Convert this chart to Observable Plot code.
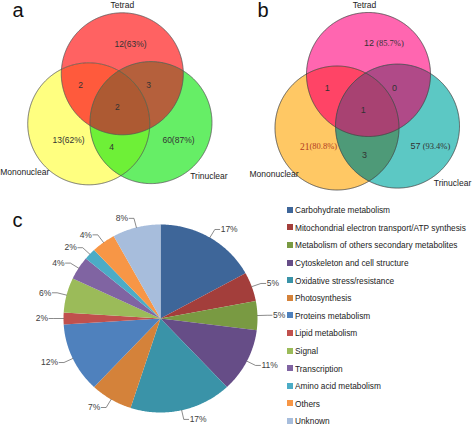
<!DOCTYPE html>
<html>
<head>
<meta charset="utf-8">
<script src="https://cdn.jsdelivr.net/npm/d3@7"></script>
<script src="https://cdn.jsdelivr.net/npm/@observablehq/plot@0.6"></script>
<style>
  body { margin: 0; background: #fff; }
  #root { position: relative; width: 472px; height: 427px; overflow: hidden; background: #fff;
          font-family: "Liberation Sans", Arial, sans-serif; }
  .panel { position: absolute; }
  .panel svg { overflow: visible; }
  #legend { position: absolute; left: 287px; top: 201px; font-family: "Liberation Sans", Arial, sans-serif;
            font-size: 9.5px; color: #222; }
  #legend .row { height: 17.6px; display: flex; align-items: center; white-space: nowrap; }
  #legend .sw { width: 6px; height: 6px; margin-right: 2px; flex: none; }
  #legend .tx { display: inline-block; transform-origin: left center; }
</style>
</head>
<body>
<div id="root"></div>
<script>
// ---------------- data ----------------
const vennSets = ["Tetrad", "Mononuclear", "Trinuclear"];
// regions: T = Tetrad only, M = Mononuclear only, R = Trinuclear only, then overlaps
const vennRegions = ["T", "M", "R", "TM", "TR", "MR", "TMR"];
const vennACounts = [12, 13, 60, 2, 3, 4, 2];
const vennAPercents = ["63", "62", "87"];
const vennBCounts = [12, 21, 57, 1, 0, 3, 1];
const vennBPercents = ["85.7", "80.8", "93.4"];

const pieCategories = [
  "Carbohydrate metabolism",
  "Mitochondrial electron transport/ATP synthesis",
  "Metabolism of others secondary metabolites",
  "Cytoskeleton and cell structure",
  "Oxidative stress/resistance",
  "Photosynthesis",
  "Proteins metabolism",
  "Lipid metabolism",
  "Signal",
  "Transcription",
  "Amino acid metabolism",
  "Others",
  "Unknown"
];
const pieValues = [17, 5, 5, 11, 17, 7, 12, 2, 6, 4, 2, 4, 8];

// ---------------- styles / layout ----------------
const pieColors = ["#3E6699", "#A33E3B", "#799A42", "#664D87", "#3A93A8", "#D4823A",
                   "#4F81BD", "#C0504D", "#9BBB59", "#8064A2", "#4BACC6", "#F79646", "#A7BDDC"];

const regionMembers = {T: [0], M: [1], R: [2], TM: [0, 1], TR: [0, 2], MR: [1, 2], TMR: [0, 1, 2]};

const layoutA = {
  letter: "a", letterDx: 12, letterDy: 2,
  px: 61, origin: [121.8, 73.3], width: 236, height: 200,
  centers: [[0, 0], [-0.55, 0.82], [0.47, 0.80]],
  nameAt: [[0, -1.13], [-1.6, 1.62], [1.42, 1.68]],
  labelAt: {T: [0.134, -0.485], M: [-0.882, 1.093], R: [0.921, 1.093], TM: [-0.685, 0.192],
            TR: [0.43, 0.192], MR: [-0.177, 1.208], TMR: [-0.079, 0.552]},
  fills: {T: "#ff6262", M: "#ffff80", R: "#66ee66", TM: "#ff5a3c", TR: "#b5603c", MR: "#6ef037", TMR: "#ad5a33"},
  stroke: "#555"
};
const layoutB = {
  letter: "b", letterDx: 21, letterDy: 2.5,
  px: 62, origin: [132, 74], width: 236, height: 200,
  centers: [[0, 0], [-0.508, 0.863], [0.468, 0.832]],
  nameAt: [[-0.065, -1.113], [-1.524, 1.613], [1.355, 1.758]],
  labelAt: {T: [0.089, -0.5], M: [-0.952, 1.161], R: [0.839, 1.161], TM: [-0.666, 0.226],
            TR: [0.419, 0.226], MR: [-0.065, 1.306], TMR: [-0.085, 0.58]},
  fills: {T: "#ff66b0", M: "#ffc864", R: "#5cc8c4", TM: "#ff4466", TR: "#b04a88", MR: "#4e9a78", TMR: "#a84272"},
  stroke: "#444"
};

const SANS = "Liberation Sans, Arial, sans-serif";
const SERIF = "Liberation Serif, Times New Roman, serif";

function regionPolygon(centers, idx, n = 480) {
  const pts = [];
  for (const i of idx) {
    const [cx, cy] = centers[i];
    for (let k = 0; k < n; k++) {
      const a = 2 * Math.PI * k / n;
      const x = cx + Math.cos(a), y = cy + Math.sin(a);
      if (idx.every(j => j === i || Math.hypot(x - centers[j][0], y - centers[j][1]) <= 1.0005)) pts.push([x, y]);
    }
  }
  const mx = d3.mean(pts, p => p[0]), my = d3.mean(pts, p => p[1]);
  pts.sort((p, q) => Math.atan2(p[1] - my, p[0] - mx) - Math.atan2(q[1] - my, q[0] - mx));
  return pts;
}

function vennPlot(counts, percents, L, splitLabels) {
  const marks = [];
  // painter's order: single circles, pairs, triple
  for (const key of vennRegions) {
    marks.push(Plot.line(regionPolygon(L.centers, regionMembers[key]), {
      x: d => d[0], y: d => d[1], curve: "linear-closed", fill: L.fills[key], stroke: "none"
    }));
  }
  for (let i = 0; i < 3; i++) {
    marks.push(Plot.line(regionPolygon(L.centers, [i]), {
      x: d => d[0], y: d => d[1], curve: "linear-closed", fill: "none", stroke: L.stroke, strokeWidth: 0.8
    }));
  }
  // set names
  marks.push(Plot.text(vennSets, {
    x: (d, i) => L.nameAt[i][0], y: (d, i) => L.nameAt[i][1], text: d => d,
    fontSize: 8.5, fill: "#222", fontFamily: SANS
  }));
  // region labels
  const items = vennRegions.map((key, i) => ({key, count: counts[i], pct: i < 3 ? percents[i] : null}));
  const lx = d => L.labelAt[d.key][0], ly = d => L.labelAt[d.key][1];
  if (!splitLabels) {
    marks.push(Plot.text(items, {
      x: lx, y: ly,
      text: d => d.pct === null ? String(d.count) : `${d.count}(${d.pct}%)`,
      fontSize: 8.5, fill: "#333", fontFamily: SANS
    }));
  } else {
    const solo = items.filter(d => d.pct !== null), overlap = items.filter(d => d.pct === null);
    marks.push(Plot.text(overlap, {
      x: lx, y: ly, text: d => String(d.count), textAnchor: "middle",
      fontSize: 9, fill: "#333", fontFamily: SANS
    }));
    marks.push(Plot.text(solo.filter(d => d.key !== "M"), {
      x: lx, y: ly, text: d => String(d.count), textAnchor: "end",
      fontSize: 9, fill: "#333", fontFamily: SANS
    }));
    marks.push(Plot.text(solo.filter(d => d.key === "M"), {
      x: lx, y: ly, text: d => String(d.count), textAnchor: "end",
      fontSize: 9.5, fill: "#b33c1e", fontFamily: SERIF
    }));
    marks.push(Plot.text(solo, {
      x: lx, y: ly, text: d => `${d.key === "M" ? "" : "\u00a0"}(${d.pct}%)`, textAnchor: "start",
      fontSize: 8.5, fill: d => d.key === "M" ? "#b33c1e" : "#333", fontFamily: SERIF
    }));
  }
  marks.push(Plot.text([L.letter], {
    text: d => d, frameAnchor: "top-left", dx: L.letterDx, dy: L.letterDy,
    fontSize: 20, fill: "#111", fontFamily: SANS
  }));
  return Plot.plot({
    width: L.width, height: L.height, margin: 0,
    x: {domain: [-L.origin[0] / L.px, (L.width - L.origin[0]) / L.px], axis: null},
    y: {domain: [-L.origin[1] / L.px, (L.height - L.origin[1]) / L.px], reverse: true, axis: null},
    style: {background: "transparent", overflow: "visible"},
    marks
  });
}

function piePlot() {
  const W = 285, H = 227, cx = 160, cy = 118, rx = 97, ry = 94;
  const arcs = d3.pie().sort(null).value(d => d)(pieValues);
  const slices = arcs.flatMap((a, i) => {
    const n = Math.max(4, Math.ceil((a.endAngle - a.startAngle) / 0.01));
    const pts = [{cat: pieCategories[i], x: 0, y: 0}];
    for (let k = 0; k <= n; k++) {
      const t = a.startAngle + (a.endAngle - a.startAngle) * k / n;
      pts.push({cat: pieCategories[i], x: Math.sin(t), y: -Math.cos(t)});
    }
    return pts;
  });
  const leaders = arcs.flatMap((a, i) => {
    const m = (a.startAngle + a.endAngle) / 2, side = Math.sin(m) >= 0 ? 1 : -1;
    const ex = Math.sin(m) * 1.1, ey = -Math.cos(m) * 1.1;
    return [
      {cat: pieCategories[i], x: Math.sin(m), y: -Math.cos(m)},
      {cat: pieCategories[i], x: ex, y: ey},
      {cat: pieCategories[i], x: ex + side * 0.05, y: ey}
    ];
  });
  const labels = arcs.map((a, i) => {
    const m = (a.startAngle + a.endAngle) / 2, side = Math.sin(m) >= 0 ? 1 : -1;
    return {v: pieValues[i], side, x: Math.sin(m) * 1.1 + side * 0.05, y: -Math.cos(m) * 1.1};
  });
  const labelStyle = {x: "x", y: "y", text: d => `${d.v}%`, fontSize: 8.5, fill: "#404040", fontFamily: SANS};
  return Plot.plot({
    width: W, height: H, margin: 0,
    x: {domain: [-cx / rx, (W - cx) / rx], axis: null},
    y: {domain: [-cy / ry, (H - cy) / ry], reverse: true, axis: null},
    color: {domain: pieCategories, range: pieColors},
    style: {background: "transparent", overflow: "visible"},
    marks: [
      Plot.line(slices, {x: "x", y: "y", z: "cat", fill: "cat", stroke: "none", curve: "linear-closed"}),
      Plot.line(leaders, {x: "x", y: "y", z: "cat", stroke: "#595959", strokeWidth: 0.7}),
      Plot.text(labels.filter(d => d.side > 0), {...labelStyle, textAnchor: "start", dx: 1}),
      Plot.text(labels.filter(d => d.side < 0), {...labelStyle, textAnchor: "end", dx: -1}),
      Plot.text(["c"], {
        text: d => d, frameAnchor: "top-left", dx: 12, dy: 12,
        fontSize: 20, fill: "#111", fontFamily: SANS
      })
    ]
  });
}

const root = document.getElementById("root");
function place(node, left, top) {
  const wrap = document.createElement("div");
  wrap.className = "panel";
  wrap.style.left = left + "px";
  wrap.style.top = top + "px";
  wrap.appendChild(node);
  root.appendChild(wrap);
}
place(vennPlot(vennACounts, vennAPercents, layoutA, false), 0, 0);
place(vennPlot(vennBCounts, vennBPercents, layoutB, true), 236, 0);
place(piePlot(), 0, 200);

// legend (condensed horizontally to match the reference's narrow font)
const legend = document.createElement("div");
legend.id = "legend";
const ctx = document.createElement("canvas").getContext("2d");
ctx.font = '9.5px "Liberation Sans", Arial, sans-serif';
const longest = d3.max(pieCategories, c => ctx.measureText(c).width);
const squeeze = Math.min(1, 171 / longest);
pieCategories.forEach((c, i) => {
  const row = document.createElement("div");
  row.className = "row";
  const sw = document.createElement("span");
  sw.className = "sw";
  sw.style.background = pieColors[i];
  const tx = document.createElement("span");
  tx.className = "tx";
  tx.style.transform = `scaleX(${squeeze})`;
  tx.textContent = c;
  row.appendChild(sw);
  row.appendChild(tx);
  legend.appendChild(row);
});
root.appendChild(legend);
</script>
</body>
</html>
